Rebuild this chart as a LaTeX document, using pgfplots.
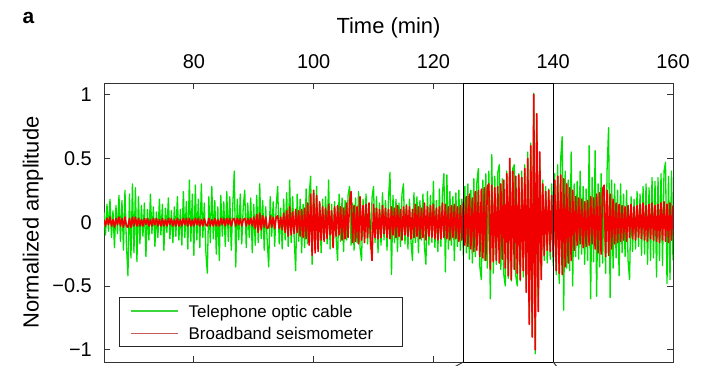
\documentclass[border=0pt]{standalone}
\usepackage{fontspec}
\setmainfont{Liberation Sans}
\usepackage{pgfplots}
\usepackage{pgfplotstable}
\pgfplotsset{compat=1.18}

\definecolor{cablegreen}{RGB}{0,225,0}
\definecolor{seisred}{RGB}{240,0,0}
\definecolor{keygreen}{RGB}{60,215,60}
\definecolor{keyred}{RGB}{205,90,90}

% Normalized traces: t in minutes, g = telephone optic cable, r = broadband seismometer
\pgfplotstableread{
t g r
65.00 0.08 0.02
65.25 -0.10 -0.03
65.50 0.14 0.03
65.75 -0.07 -0.02
66.00 0.18 0.04
66.25 -0.12 -0.03
66.50 0.09 0.02
66.75 -0.20 -0.04
67.00 0.13 0.03
67.25 -0.09 -0.02
67.50 0.21 0.04
67.75 -0.15 -0.03
68.00 0.17 0.03
68.25 -0.22 -0.04
68.50 0.25 0.04
68.75 -0.18 -0.03
69.00 -0.42 -0.04
69.25 0.22 0.03
69.50 -0.28 -0.04
69.75 0.30 0.04
70.00 -0.24 -0.03
70.25 0.27 0.04
70.50 -0.31 -0.03
70.75 0.20 0.03
71.00 -0.17 -0.03
71.25 0.13 0.02
71.50 -0.11 -0.03
71.75 0.15 0.03
72.00 -0.27 -0.02
72.25 0.10 0.03
72.50 -0.14 -0.03
72.75 0.22 0.02
73.00 -0.09 -0.03
73.25 0.12 0.03
73.50 -0.19 -0.02
73.75 0.08 0.03
74.00 -0.12 -0.03
74.25 0.18 0.02
74.50 -0.10 -0.03
74.75 0.14 0.03
75.00 -0.22 -0.03
75.25 0.11 0.02
75.50 -0.08 -0.03
75.75 0.19 0.03
76.00 -0.13 -0.02
76.25 0.09 0.03
76.50 -0.16 -0.03
76.75 0.12 0.02
77.00 -0.11 -0.03
77.25 0.20 0.03
77.50 -0.14 -0.03
77.75 0.10 0.02
78.00 -0.18 -0.03
78.25 0.24 0.03
78.50 -0.12 -0.02
78.75 0.16 0.03
79.00 -0.21 -0.03
79.25 0.33 0.03
79.50 -0.15 -0.03
79.75 0.22 0.02
80.00 -0.26 -0.03
80.25 0.29 0.03
80.50 -0.14 -0.02
80.75 0.18 0.03
81.00 -0.20 -0.03
81.25 0.30 0.02
81.50 -0.12 -0.03
81.75 0.15 0.03
82.00 -0.23 -0.02
82.25 -0.40 -0.03
82.50 0.20 0.03
82.75 -0.16 -0.03
83.00 0.28 0.02
83.25 -0.13 -0.03
83.50 0.17 0.03
83.75 -0.25 -0.03
84.00 0.12 0.02
84.25 -0.30 -0.03
84.50 0.21 0.03
84.75 -0.11 -0.02
85.00 0.16 0.03
85.25 -0.19 -0.03
85.50 0.24 0.03
85.75 -0.15 -0.02
86.00 0.20 0.03
86.25 -0.22 -0.03
86.50 0.13 0.02
86.75 0.40 0.03
87.00 -0.35 -0.03
87.25 0.18 0.03
87.50 -0.14 -0.02
87.75 0.22 0.03
88.00 -0.17 -0.03
88.25 0.12 0.02
88.50 0.25 0.03
88.75 -0.20 -0.03
89.00 0.15 0.03
89.25 -0.12 -0.02
89.50 0.19 0.03
89.75 -0.24 -0.03
90.00 0.14 0.04
90.25 -0.18 -0.05
90.50 0.21 0.06
90.75 -0.16 -0.08
91.00 0.30 0.07
91.25 -0.13 -0.06
91.50 0.17 0.05
91.75 -0.22 -0.04
92.00 0.12 0.04
92.25 -0.15 -0.05
92.50 -0.35 -0.04
92.75 0.20 0.05
93.00 -0.11 -0.04
93.25 0.16 0.04
93.50 -0.19 -0.05
93.75 0.13 0.04
94.00 0.28 0.05
94.25 -0.17 -0.05
94.50 0.11 0.04
94.75 -0.21 -0.06
95.00 0.18 0.07
95.25 -0.14 -0.08
95.50 0.23 0.09
95.75 -0.19 -0.11
96.00 0.33 0.12
96.25 -0.16 -0.10
96.50 0.20 0.08
96.75 -0.12 -0.09
97.00 -0.38 0.10
97.25 0.22 -0.08
97.50 -0.15 0.09
97.75 0.18 -0.11
98.00 -0.24 0.10
98.25 0.14 -0.12
98.50 -0.20 0.11
98.75 0.26 -0.13
99.00 -0.17 0.15
99.25 0.21 -0.18
99.50 0.36 0.22
99.75 -0.33 -0.26
100.00 0.25 0.25
100.25 -0.22 -0.24
100.50 0.28 0.21
100.75 -0.19 -0.23
101.00 0.15 0.16
101.25 -0.24 -0.14
101.50 0.18 0.12
101.75 -0.13 -0.15
102.00 0.20 0.11
102.25 -0.17 -0.13
102.50 0.33 0.14
102.75 -0.21 -0.10
103.00 0.14 0.09
103.25 -0.19 -0.20
103.50 0.16 0.12
103.75 -0.12 -0.11
104.00 -0.30 0.13
104.25 0.22 -0.10
104.50 -0.15 0.12
104.75 0.19 -0.14
105.00 -0.23 0.11
105.25 0.17 -0.13
105.50 -0.14 0.15
105.75 0.21 -0.12
106.00 0.28 0.16
106.25 -0.18 0.24
106.50 0.15 -0.16
106.75 -0.22 0.13
107.00 0.19 -0.15
107.25 -0.16 0.12
107.50 0.24 -0.17
107.75 -0.20 0.20
108.00 -0.30 -0.14
108.25 0.18 0.13
108.50 -0.13 -0.16
108.75 0.22 0.14
109.00 -0.17 -0.12
109.25 0.14 0.15
109.50 -0.21 -0.13
109.75 0.19 -0.30
110.00 0.28 0.14
110.25 -0.16 -0.12
110.50 0.20 0.11
110.75 -0.24 -0.13
111.00 0.15 0.10
111.25 -0.18 -0.12
111.50 0.23 0.13
111.75 -0.14 -0.09
112.00 0.17 0.11
112.25 -0.22 -0.12
112.50 0.19 0.10
112.75 0.39 -0.13
113.00 -0.41 0.12
113.25 0.21 -0.10
113.50 -0.16 0.11
113.75 0.18 -0.12
114.00 -0.23 0.13
114.25 0.15 -0.11
114.50 -0.19 0.10
114.75 0.22 -0.14
115.00 0.30 0.12
115.25 -0.17 -0.10
115.50 0.14 0.13
115.75 -0.21 -0.11
116.00 0.18 0.12
116.25 -0.15 -0.13
116.50 -0.30 0.10
116.75 0.23 -0.12
117.00 -0.16 0.14
117.25 0.20 -0.11
117.50 -0.24 0.12
117.75 0.17 -0.13
118.00 -0.14 0.11
118.25 0.22 -0.12
118.50 -0.19 0.15
118.75 -0.33 -0.14
119.00 0.24 0.12
119.25 -0.18 -0.11
119.50 0.21 0.13
119.75 -0.16 -0.12
120.00 0.32 0.14
120.25 -0.20 -0.13
120.50 0.17 0.11
120.75 -0.23 -0.14
121.00 0.26 0.12
121.25 -0.19 -0.13
121.50 0.22 0.15
121.75 0.38 -0.12
122.00 -0.39 0.14
122.25 0.37 -0.13
122.50 -0.21 0.12
122.75 0.24 -0.14
123.00 -0.18 0.13
123.25 0.20 -0.12
123.50 -0.30 0.14
123.75 0.23 -0.13
124.00 -0.19 0.12
124.25 0.25 -0.15
124.50 -0.22 0.13
124.75 0.18 -0.14
125.00 -0.26 0.16
125.25 0.28 -0.18
125.50 -0.24 0.20
125.75 0.30 -0.19
126.00 -0.29 0.22
126.25 0.25 -0.21
126.50 -0.32 0.19
126.75 0.34 -0.23
127.00 -0.27 0.24
127.25 0.31 -0.22
127.50 0.42 0.25
127.75 -0.35 -0.27
128.00 -0.45 0.26
128.25 0.33 -0.28
128.50 -0.30 0.27
128.75 0.38 -0.30
129.00 -0.36 0.28
129.25 0.40 0.30
129.50 -0.60 -0.37
129.75 0.53 0.29
130.00 -0.40 -0.31
130.25 0.36 0.27
130.50 -0.33 -0.30
130.75 0.39 0.28
131.00 0.45 -0.32
131.25 -0.37 0.30
131.50 0.34 -0.29
131.75 -0.41 0.33
132.00 -0.50 -0.36
132.25 0.40 0.38
132.50 -0.44 -0.42
132.75 0.48 0.50
133.00 -0.46 -0.45
133.25 0.42 0.40
133.50 0.45 -0.37
133.75 -0.42 0.36
134.00 -0.50 -0.40
134.25 0.38 0.37
134.50 -0.46 -0.45
134.75 0.40 0.35
135.00 -0.43 -0.38
135.25 0.45 0.42
135.50 -0.52 -0.55
135.75 0.55 0.50
136.00 -0.75 -0.80
136.25 0.62 0.60
136.50 -0.88 -0.90
136.75 1.01 1.00
137.00 -1.03 -1.00
137.25 0.80 0.85
137.50 -0.66 -0.70
137.75 0.50 0.55
138.00 -0.42 -0.45
138.25 0.33 0.30
138.50 -0.30 -0.26
138.75 0.28 0.24
139.00 -0.32 -0.22
139.25 0.26 0.25
139.50 -0.29 -0.23
139.75 0.30 0.21
140.00 -0.34 -0.27
140.25 0.38 0.33
140.50 -0.41 -0.38
140.75 0.45 0.36
141.00 -0.48 -0.40
141.25 0.50 0.37
141.50 0.67 -0.41
141.75 -0.69 0.34
142.00 0.40 -0.35
142.25 -0.36 0.30
142.50 0.33 -0.32
142.75 -0.38 0.27
143.00 0.55 -0.30
143.25 -0.50 0.25
143.50 0.30 -0.22
143.75 -0.27 0.20
144.00 0.32 -0.18
144.25 -0.29 0.19
144.50 0.40 -0.17
144.75 -0.25 0.18
145.00 0.28 -0.20
145.25 -0.33 0.16
145.50 0.26 -0.19
145.75 -0.30 0.17
146.00 0.60 -0.18
146.25 -0.60 0.20
146.50 0.35 -0.17
146.75 -0.31 0.19
147.00 0.56 -0.21
147.25 -0.58 0.22
147.50 0.30 -0.24
147.75 -0.35 0.23
148.00 0.38 -0.25
148.25 -0.32 0.26
148.50 0.28 0.29
148.75 -0.40 -0.27
149.00 0.42 0.25
149.25 0.74 -0.26
149.50 -0.59 0.22
149.75 0.33 -0.21
150.00 -0.36 0.18
150.25 0.30 -0.17
150.50 -0.28 0.15
150.75 0.25 -0.16
151.00 -0.42 0.14
151.25 0.30 -0.15
151.50 -0.24 0.13
151.75 0.22 -0.14
152.00 -0.27 0.12
152.25 0.25 -0.15
152.50 -0.30 0.13
152.75 -0.45 -0.12
153.00 0.20 0.14
153.25 -0.23 -0.13
153.50 0.18 0.12
153.75 -0.21 -0.14
154.00 0.24 0.13
154.25 -0.19 -0.12
154.50 0.22 0.14
154.75 -0.26 -0.13
155.00 0.28 0.15
155.25 -0.25 -0.14
155.50 0.30 0.13
155.75 -0.33 -0.15
156.00 0.27 0.14
156.25 -0.30 -0.13
156.50 0.35 0.15
156.75 -0.28 -0.14
157.00 0.32 0.13
157.25 -0.43 -0.15
157.50 0.35 0.14
157.75 -0.30 -0.16
158.00 0.38 0.15
158.25 -0.34 -0.14
158.50 0.40 0.16
158.75 0.47 -0.15
159.00 -0.48 0.14
159.25 0.36 -0.16
159.50 -0.45 0.15
159.75 0.40 -0.14
160.00 -0.30 0.13
}\traces

\begin{document}
\begin{tikzpicture}
% page frame
\path[use as bounding box] (0bp,0bp) rectangle (708bp,366bp);
\begin{axis}[
  at={(104bp,4bp)}, anchor=south west,
  scale only axis, width=569bp, height=279bp,
  xmin=65, xmax=160, ymin=-1.095, ymax=1.09,
  xtick={80,100,120,140,160},
  xticklabels={80,100,120,140,160},
  ytick={-1,-0.5,0,0.5,1},
  yticklabels={−1,−0.5,0,0.5,1},
  xticklabel pos=upper,
  tick align=inside,
  major tick length=6bp,
  tick style={line width=0.8bp, black!80},
  axis line style={line width=0.8bp, black!80},
  ticklabel style={font=\fontsize{20}{24}\selectfont, inner sep=0pt},
  xticklabel style={anchor=center, yshift=21bp},
  yticklabel style={anchor=east, xshift=-12bp},
  xlabel={Time (min)},
  ylabel={Normalized amplitude},
  label style={font=\fontsize{22}{26}\selectfont, inner sep=0pt},
  xlabel style={at={(axis description cs:0.5,1.197)}, anchor=center},
  ylabel style={at={(axis description cs:-0.1248,0.5)}, anchor=center, rotate=0},
  clip mode=individual,
  legend style={
    at={(axis description cs:0,0)}, anchor=south west,
    xshift=15bp, yshift=15bp,
    draw=black!85, line width=0.8bp, fill=white,
    font=\fontsize{17}{20}\selectfont,
    inner xsep=11bp, inner ysep=4.5bp,
    nodes={inner sep=0pt, text height=15bp, text depth=2.8bp},
    column sep=10bp, row sep=4.5bp,
  },
  legend cell align=left,
]
% legend keys
\addlegendimage{legend image code/.code={\path[draw=keygreen, line width=1.3bp] (0bp,0bp) -- (47bp,0bp);}}
\addlegendentry{Telephone optic cable}
\addlegendimage{legend image code/.code={\path[draw=keyred, line width=1.3bp] (0bp,0bp) -- (47bp,0bp);}}
\addlegendentry{Broadband seismometer\hspace*{18bp}}
% traces
\addplot[draw=cablegreen, line width=1.3bp, line join=round, forget plot] table[x=t, y=g] {\traces};
\addplot[draw=seisred, line width=1.6bp, line join=round, forget plot] table[x=t, y=r] {\traces};
% highlighted window
\draw[line width=0.9bp, black] (axis cs:125,-1.095) rectangle (axis cs:140,1.09);
\draw[line width=0.9bp, black!80] (axis cs:125,-1.095) -- ++(-9bp,-5bp);
\draw[line width=0.9bp, black!80] (axis cs:140,-1.095) -- ++(4bp,-5bp);
\end{axis}
\node[font=\bfseries\fontsize{21}{25}\selectfont, inner sep=0pt] at (28.5bp,348.5bp) {a};
\end{tikzpicture}
\end{document}
